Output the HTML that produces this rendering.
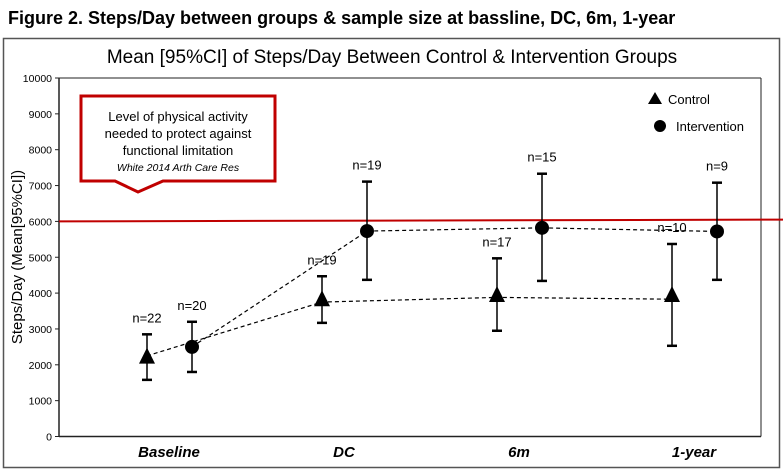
<!DOCTYPE html>
<html><head><meta charset="utf-8"><style>
body{margin:0;background:#fff;font-family:"Liberation Sans",Arial,sans-serif}
svg{display:block}
</style></head><body>
<svg width="783" height="472" viewBox="0 0 783 472">
<text x="8" y="24" font-size="18" font-weight="bold">Figure 2. Steps/Day between groups &amp; sample size at bassline, DC, 6m, 1-year</text>
<rect x="3.5" y="38.5" width="776" height="429" fill="none" stroke="#555" stroke-width="1.5"/>
<text x="392" y="63" font-size="19" text-anchor="middle">Mean [95%CI] of Steps/Day Between Control &amp; Intervention Groups</text>
<g id="axes"></g>
<g id="marks"></g>
<path d="M81,96 H275 V181 H163 L138,192 L115,181 H81 Z" fill="#fff" stroke="#c00000" stroke-width="3"/>
<text font-size="13" text-anchor="middle"><tspan x="178" y="121">Level of physical activity</tspan><tspan x="178" y="138">needed to protect against</tspan><tspan x="178" y="155">functional limitation</tspan></text>
<text x="178" y="171" font-size="10.5" font-style="italic" text-anchor="middle">White 2014 Arth Care Res</text>
<g>
<path d="M655,92 L662,104 L648,104 Z" fill="#000"/>
<text x="668" y="104" font-size="13">Control</text>
<circle cx="660" cy="126" r="6" fill="#000"/>
<text x="676" y="131" font-size="13">Intervention</text>
</g>
</svg>
<script>
const categories=["Baseline","DC","6m","1-year"];
const yTicks=[0,1000,2000,3000,4000,5000,6000,7000,8000,9000,10000];
const controlMean=[2200,3800,3920,3920];
const controlLow=[1580,3170,2950,2530];
const controlHigh=[2850,4470,4970,5370];
const controlN=["n=22","n=19","n=17","n=10"];
const controlLine=[2250,3750,3880,3830];
const interMean=[2500,5730,5820,5720];
const interLow=[1800,4370,4340,4370];
const interHigh=[3200,7110,7330,7080];
const interN=["n=20","n=19","n=15","n=9"];
const threshold=[6000,6050];
const NS="http://www.w3.org/2000/svg";
const X0=59,X1=761,Y0=436.5,Y1=78;
const y=v=>Y0-(v/10000)*(Y0-Y1);
const xc=i=>147+i*175, xi=i=>192+i*175, xl=i=>169+i*175;
function mk(p,t,a){const e=document.createElementNS(NS,t);for(const k in a)e.setAttribute(k,a[k]);p.appendChild(e);return e;}
const ax=document.getElementById('axes'),mg=document.getElementById('marks');
let e=mk(ax,'line',{x1:X0,y1:Y1,x2:X0,y2:Y0,stroke:'#222','stroke-width':1.5});

e=mk(ax,'line',{x1:X0,y1:Y0,x2:X1,y2:Y0,stroke:'#222','stroke-width':1.5});

e=mk(ax,'line',{x1:X1,y1:Y1,x2:X1,y2:Y0,stroke:'#222','stroke-width':1});

e=mk(ax,'line',{x1:X0,y1:Y1,x2:X1,y2:Y1,stroke:'#222','stroke-width':1});

yTicks.forEach(v=>{mk(ax,'line',{x1:X0-4,y1:y(v),x2:X0,y2:y(v),stroke:'#222'});
 e=mk(ax,'text',{x:X0-7,y:y(v)+4,'font-size':10.5,'text-anchor':'end'});e.textContent=v;
 });
e=mk(ax,'text',{transform:'translate(22,257) rotate(-90)','font-size':15,'text-anchor':'middle'});e.textContent='Steps/Day (Mean[95%CI])';

categories.forEach((c,i)=>{e=mk(ax,'text',{x:xl(i),y:457,'font-size':15,'font-weight':'bold','font-style':'italic','text-anchor':'middle'});e.textContent=c;
 });
e=mk(mg,'line',{x1:X0,y1:y(threshold[0]),x2:783,y2:y(threshold[1]),stroke:'#c00000','stroke-width':2});

e=mk(mg,'polyline',{points:controlLine.map((v,i)=>xc(i)+','+y(v)).join(' '),fill:'none',stroke:'#000','stroke-dasharray':'4,3','stroke-width':1.2});

e=mk(mg,'polyline',{points:interMean.map((v,i)=>xi(i)+','+y(v)).join(' '),fill:'none',stroke:'#000','stroke-dasharray':'4,3','stroke-width':1.2});

function errbar(x,lo,hi,name){const g=mk(mg,'g',{stroke:'#000','stroke-width':1.5});
 mk(g,'line',{x1:x,y1:y(lo),x2:x,y2:y(hi)});mk(g,'line',{x1:x-5,y1:y(lo),x2:x+5,y2:y(lo),'stroke-width':2.5});mk(g,'line',{x1:x-5,y1:y(hi),x2:x+5,y2:y(hi),'stroke-width':2.5});
 }
categories.forEach((c,i)=>{
 errbar(xc(i),controlLow[i],controlHigh[i],'control-error-bar');
 errbar(xi(i),interLow[i],interHigh[i],'intervention-error-bar');
 const cx=xc(i),cy=y(controlMean[i]);
 e=mk(mg,'path',{d:`M${cx},${cy-10} L${cx+8},${cy+6} L${cx-8},${cy+6} Z`,fill:'#000'});
 
 e=mk(mg,'circle',{cx:xi(i),cy:y(interMean[i]),r:7,fill:'#000'});
 
 e=mk(mg,'text',{x:xc(i),y:y(controlHigh[i])-12,'font-size':13,'text-anchor':'middle'});e.textContent=controlN[i];
 
 e=mk(mg,'text',{x:xi(i),y:y(interHigh[i])-12,'font-size':13,'text-anchor':'middle'});e.textContent=interN[i];
 
});
</script>
</body></html>
